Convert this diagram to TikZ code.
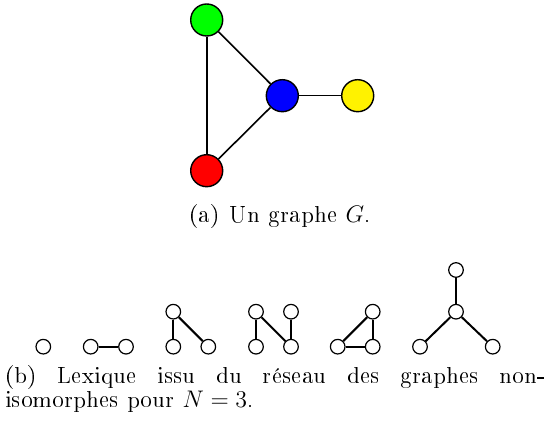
\documentclass[tikz,border=0pt]{standalone}
\usepackage[T1]{fontenc}
\begin{document}
\begin{tikzpicture}[x=0.5pt,y=-0.5pt,
  every node/.style={font=\fontsize{12}{14.5}\selectfont},
  big/.style={circle,draw,line width=0.7pt,minimum size=16pt,inner sep=0pt},
  small/.style={circle,draw,fill=white,line width=0.6pt,minimum size=7.3pt,inner sep=0pt},
  bigedge/.style={line width=0.8pt},
  smalledge/.style={line width=1pt}]
\useasboundingbox (0,0) rectangle (551,421);
% graph G
\node[big,fill=green] (g) at (206.7,20) {};
\node[big,fill=blue] (b) at (282.3,95.7) {};
\node[big,fill=yellow] (y) at (357.7,95.7) {};
\node[big,fill=red] (r) at (206.7,170.7) {};
\draw[bigedge] (g) -- (b);
\draw[bigedge] (g) -- (r);
\draw[bigedge] (r) -- (b);
\draw[bigedge] (b) -- (y);
\node (capa) at (280,216.7) {(a)\hspace{0.45em}Un graphe $G$.};
% lexicon
\node[small] (a1) at (43.3,346.7) {};
\node[small] (b1) at (90.7,346.7) {};
\node[small] (b2) at (126,346.7) {};
\draw[smalledge] (b1) -- (b2);
\node[small] (c1) at (173.3,311.7) {};
\node[small] (c2) at (173.3,346.7) {};
\node[small] (c3) at (208.3,346.7) {};
\draw[smalledge] (c1) -- (c2);
\draw[smalledge] (c1) -- (c3);
\node[small] (d1) at (256,311.7) {};
\node[small] (d2) at (291,311.7) {};
\node[small] (d3) at (256,346.7) {};
\node[small] (d4) at (291,346.7) {};
\draw[smalledge] (d1) -- (d3);
\draw[smalledge] (d1) -- (d4);
\draw[smalledge] (d2) -- (d4);
\node[small] (e1) at (372.7,311.7) {};
\node[small] (e2) at (337.7,346.7) {};
\node[small] (e3) at (372.7,346.7) {};
\draw[smalledge] (e1) -- (e2);
\draw[smalledge] (e1) -- (e3);
\draw[smalledge] (e2) -- (e3);
\node[small] (f0) at (456,270) {};
\node[small] (f1) at (456,311.7) {};
\node[small] (f2) at (420,346.7) {};
\node[small] (f3) at (492.7,346.7) {};
\draw[smalledge] (f0) -- (f1);
\draw[smalledge] (f1) -- (f2);
\draw[smalledge] (f1) -- (f3);
\node[anchor=west,inner sep=0pt] (capb1) at (5,378) {\makebox[270pt][s]{(b) Lexique issu du réseau des graphes non-}};
\node[anchor=west,inner sep=0pt] (capb2) at (5,402) {isomorphes pour $N=3$.};
\end{tikzpicture}
\end{document}
